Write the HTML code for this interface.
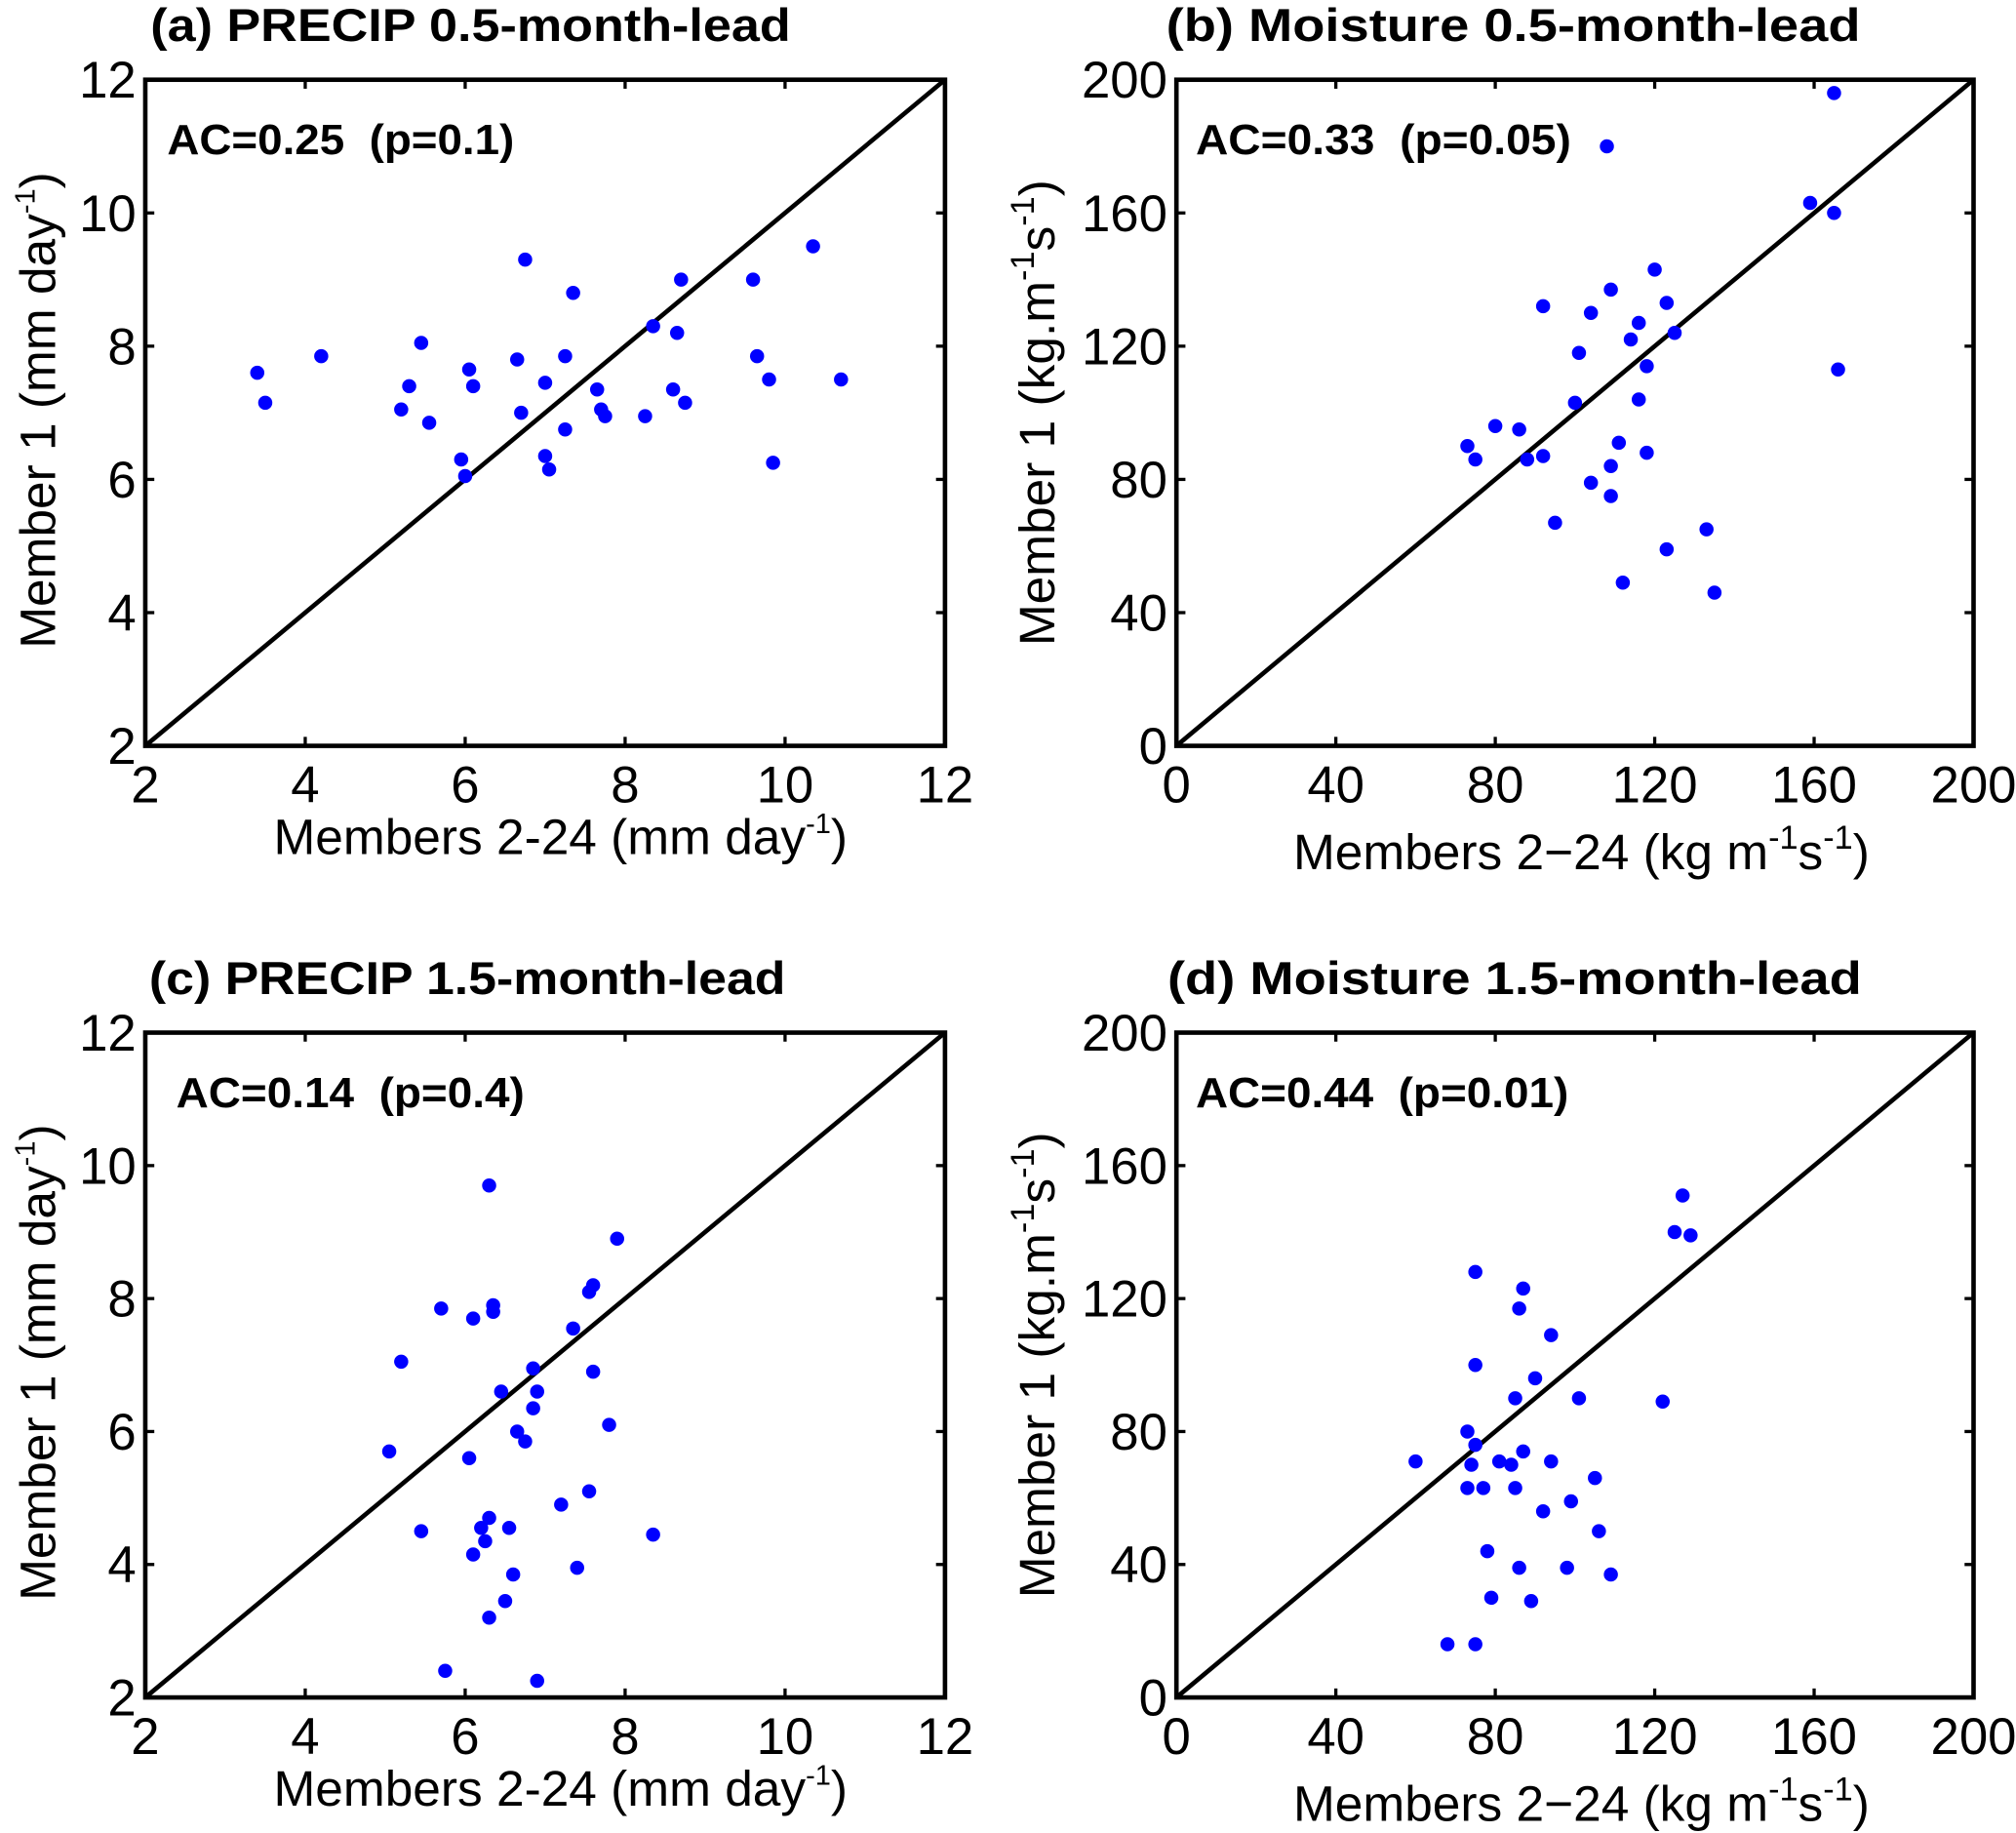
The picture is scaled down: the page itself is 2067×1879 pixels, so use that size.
<!DOCTYPE html>
<html><head><meta charset="utf-8"><style>
html,body{margin:0;padding:0;background:#fff;}
svg{display:block;}
text{font-family:"Liberation Sans",sans-serif;}
</style></head><body>
<svg id="fig" width="2067" height="1879" viewBox="0 0 1568 1425.4" xmlns="http://www.w3.org/2000/svg"></svg>
<script>
const aX=[3.4,3.5,4.2,5.2,5.3,5.45,5.55,5.95,6.0,6.05,6.1,6.65,6.7,6.75,7.0,7.0,7.05,7.25,7.25,7.35,7.65,7.7,7.75,8.25,8.35,8.6,8.65,8.7,8.75,9.6,9.65,9.8,9.85,10.35,10.7];
const aY=[7.6,7.15,7.85,7.05,7.4,8.05,6.85,6.3,6.05,7.65,7.4,7.8,7.0,9.3,7.45,6.35,6.15,6.75,7.85,8.8,7.35,7.05,6.95,6.95,8.3,7.35,8.2,9.0,7.15,9.0,7.85,7.5,6.25,9.5,7.5];
const bX=[73,75,80,86,88,92,92,95,100,101,104,104,108,109,109,109,111,112,114,116,116,118,118,120,123,123,125,133,135,159,165,165,166];
const bY=[90,86,96,95,86,132,87,67,103,118,130,79,180,137,75,84,91,49,122,127,104,114,88,143,133,59,124,65,46,163,196,160,113];
const cX=[5.05,5.2,5.45,5.7,5.75,6.05,6.1,6.1,6.2,6.25,6.3,6.3,6.3,6.35,6.35,6.45,6.5,6.55,6.6,6.65,6.75,6.85,6.85,6.9,6.9,7.2,7.35,7.4,7.55,7.55,7.6,7.6,7.8,7.9,8.35];
const cY=[5.7,7.05,4.5,7.85,2.4,5.6,7.7,4.15,4.55,4.35,3.2,4.7,9.7,7.8,7.9,6.6,3.45,4.55,3.85,6.0,5.85,6.35,6.95,6.6,2.25,4.9,7.55,3.95,8.1,5.1,8.2,6.9,6.1,8.9,4.45];
const dX=[60,68,73,73,74,75,75,75,75,77,78,79,81,84,85,85,86,87,86,87,89,90,92,94,94,98,99,101,105,106,109,122,125,127,129];
const dY=[71,16,63,80,70,16,76,128,100,63,44,30,71,70,90,63,117,123,39,74,29,96,56,109,71,39,59,90,66,50,37,89,140,151,139];
const precipTicks=["2","4","6","8","10","12"];
const moistTicks=["0","40","80","120","160","200"];
const titles=["(a) PRECIP 0.5-month-lead","(b) Moisture 0.5-month-lead","(c) PRECIP 1.5-month-lead","(d) Moisture 1.5-month-lead"];
const acLabels=["AC=0.25  (p=0.1)","AC=0.33  (p=0.05)","AC=0.14  (p=0.4)","AC=0.44  (p=0.01)"];

const NS="http://www.w3.org/2000/svg";
const svg=document.getElementById('fig');
function mk(tag,attrs,parent){const e=document.createElementNS(NS,tag);for(const k in attrs)e.setAttribute(k,attrs[k]);(parent||svg).appendChild(e);return e;}

const panels=[
 {x0:113,x1:735,y0:62,y1:580,min:2,max:12,ticks:precipTicks,xs:aX,ys:aY,kind:'p',acx:130,acw:270,tx:117,tw:498},
 {x0:915,x1:1535,y0:62,y1:580,min:0,max:200,ticks:moistTicks,xs:bX,ys:bY,kind:'m',acx:930,acw:292,tx:907,tw:540},
 {x0:113,x1:735,y0:803,y1:1320,min:2,max:12,ticks:precipTicks,xs:cX,ys:cY,kind:'p',acx:137,acw:271,tx:116,tw:495},
 {x0:915,x1:1535,y0:803,y1:1320,min:0,max:200,ticks:moistTicks,xs:dX,ys:dY,kind:'m',acx:930,acw:290,tx:908,tw:540}
];
panels.forEach((p,i)=>{
 const g=mk('g',{});
 
 
 const sx=v=>p.x0+(v-p.min)/(p.max-p.min)*(p.x1-p.x0);
 const sy=v=>p.y1-(v-p.min)/(p.max-p.min)*(p.y1-p.y0);
 const t=mk('text',{x:p.tx,y:p.y0-30,'font-size':36,'font-weight':'bold',textLength:p.tw,lengthAdjust:'spacingAndGlyphs'},g);
 t.textContent=titles[i];
 
 
 p.ticks.forEach(s=>{
  const v=parseFloat(s);
  const X=sx(v),Y=sy(v);
  mk('line',{x1:X,y1:p.y1,x2:X,y2:p.y1-7,stroke:'#000','stroke-width':2.5},g);
  mk('line',{x1:X,y1:p.y0,x2:X,y2:p.y0+7,stroke:'#000','stroke-width':2.5},g);
  mk('line',{x1:p.x0,y1:Y,x2:p.x0+7,y2:Y,stroke:'#000','stroke-width':2.5},g);
  mk('line',{x1:p.x1,y1:Y,x2:p.x1-7,y2:Y,stroke:'#000','stroke-width':2.5},g);
  const xt=mk('text',{x:X,y:p.y1+44,'text-anchor':'middle','font-size':40},g);
  xt.textContent=s;
  
  
  const yt=mk('text',{x:p.x0-7,y:Y+14,'text-anchor':'end','font-size':40},g);
  yt.textContent=s;
  
  
 });
 const diag=mk('line',{x1:sx(p.min),y1:sy(p.min),x2:sx(p.max),y2:sy(p.max),stroke:'#000','stroke-width':3.5},g);
 
 
 p.xs.forEach((v,k)=>{
  const c=mk('circle',{cx:sx(v),cy:sy(p.ys[k]),r:5.5,fill:'#0000ff'},g);
  
  
 });
 const fr=mk('rect',{x:p.x0,y:p.y0,width:p.x1-p.x0,height:p.y1-p.y0,fill:'none',stroke:'#000','stroke-width':3.5},g);
 
 
 const ac=mk('text',{x:p.acx,y:p.y0+58,'font-size':33,'font-weight':'bold',textLength:p.acw,lengthAdjust:'spacingAndGlyphs'},g);
 ac.textContent=acLabels[i];
 
 
 ac.style.whiteSpace='pre';
 const xl=mk('text',{y:p.y1+(p.kind==='p'?84:96),'text-anchor':'middle','font-size':39},g);
 xl.setAttribute('x',p.kind==='p'?436:1230);
 if(p.kind==='p'){xl.innerHTML='Members 2-24 (mm day<tspan dy="-16" font-size="22">-1</tspan><tspan dy="16">)</tspan>';}
 else{xl.innerHTML='Members 2\u221224 (kg m<tspan dy="-16" font-size="26">-1</tspan><tspan dy="16">s</tspan><tspan dy="-16" font-size="26">-1</tspan><tspan dy="16">)</tspan>';}
 
 
 const cy=p.kind==='p'?(p.y0+p.y1)/2-2:(p.y0+p.y1)/2+0;
 const lx=p.kind==='p'?p.x0-70:p.x0-95;
 const yl=mk('text',{x:lx,y:cy,'text-anchor':'middle','font-size':39,transform:`rotate(-90 ${lx} ${cy})`},g);
 if(p.kind==='p'){yl.innerHTML='Member 1 (mm day<tspan dy="-16" font-size="22">-1</tspan><tspan dy="16">)</tspan>';}
 else{yl.innerHTML='Member 1 (kg.m<tspan dy="-16" font-size="26">-1</tspan><tspan dy="16">s</tspan><tspan dy="-16" font-size="26">-1</tspan><tspan dy="16">)</tspan>';}
 
 
});
</script>
</body></html>
